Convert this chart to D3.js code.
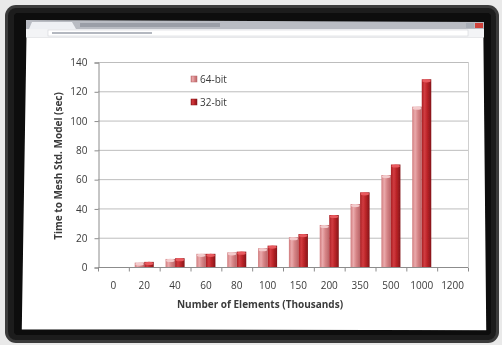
<!DOCTYPE html>
<html>
<head>
<meta charset="utf-8">
<script src="https://cdn.jsdelivr.net/npm/d3@7"></script>
<style>
  html, body { margin: 0; padding: 0; background: #e9e9e9; }
  svg { display: block; }
  text { font-family: "Open Sans", "Liberation Sans", sans-serif; fill: #3a3a3a; }
</style>
</head>
<body>
<svg id="chart" width="502" height="345"></svg>
<script>
// data
const categories = ["0", "20", "40", "60", "80", "100", "150", "200", "350", "500", "1000", "1200"];
const series = ["64-bit", "32-bit"];
const values64 = [null, 3, 5.5, 9, 10, 12.8, 20.3, 28.7, 43, 62.8, 109.5, null];
const values32 = [null, 3.5, 6, 9, 10.5, 14.6, 22.5, 35.5, 51, 70, 128.2, null];
const yTicks = [0, 20, 40, 60, 80, 100, 120, 140];

const svg = d3.select("#chart");
const defs = svg.append("defs");

// slight blur, the reference is a photo of a monitor
defs.append("filter").attr("id", "soft")
  .append("feGaussianBlur").attr("stdDeviation", 0.45);

// bar gradients (cylinder look)
function barGradient(id, stops) {
  const g = defs.append("linearGradient").attr("id", id)
    .attr("x1", "0%").attr("x2", "100%").attr("y1", "0%").attr("y2", "0%");
  stops.forEach(s => g.append("stop").attr("offset", s[0]).attr("stop-color", s[1]));
}
barGradient("g64", [["0%", "#d07c7e"], ["30%", "#eaaaac"], ["60%", "#d68486"], ["100%", "#b96568"]]);
barGradient("g32", [["0%", "#a91f23"], ["30%", "#d13b40"], ["60%", "#b92327"], ["100%", "#84161a"]]);

// monitor frame
svg.append("rect").attr("width", 502).attr("height", 345).attr("fill", "#e9e9e9");
const root = svg.append("g").attr("filter", "url(#soft)");
root.append("rect")
  .attr("x", 5).attr("y", 5).attr("width", 494).attr("height", 338)
  .attr("rx", 11).attr("fill", "#3a3a3a");
root.append("rect")
  .attr("x", 8).attr("y", 8).attr("width", 488).attr("height", 332)
  .attr("rx", 8).attr("fill", "#1e1e1e");
root.append("rect")
  .attr("x", 14).attr("y", 13).attr("width", 477).attr("height", 322)
  .attr("rx", 3).attr("fill", "#111111");

// screen (slight perspective)
root.append("polygon")
  .attr("points", "26,20 484,22 487,331 21,330")
  .attr("fill", "#ffffff")
  .attr("stroke", "#0a0a0a").attr("stroke-width", 1.5);

// browser chrome
root.append("polygon")
  .attr("points", "26,20 484,22 484,30 26,29")
  .attr("fill", "#b9bcc3");
root.append("path")
  .attr("d", "M29,29 L32,22 L72,22 L76,29 Z")
  .attr("fill", "#eef0f4");
root.append("rect").attr("x", 80).attr("y", 23).attr("width", 140).attr("height", 4)
  .attr("fill", "#9a9ea7");
root.append("rect").attr("x", 26).attr("y", 29).attr("width", 458).attr("height", 8)
  .attr("fill", "#f3f4f6");
root.append("rect").attr("x", 48).attr("y", 30).attr("width", 420).attr("height", 6)
  .attr("fill", "#ffffff").attr("stroke", "#c9ccd2").attr("stroke-width", 0.5);
root.append("rect").attr("x", 52).attr("y", 32).attr("width", 100).attr("height", 2)
  .attr("fill", "#b4b8c0");
root.append("rect").attr("x", 466).attr("y", 23).attr("width", 8).attr("height", 5).attr("fill", "#a8adb6");
root.append("rect").attr("x", 475).attr("y", 23).attr("width", 8).attr("height", 5).attr("fill", "#d0433a");
root.append("line").attr("x1", 26).attr("x2", 484).attr("y1", 37.5).attr("y2", 37.5)
  .attr("stroke", "#d6d8dc").attr("stroke-width", 0.6);

// chart
const x = d3.scaleBand().domain(categories).range([98, 468]).paddingInner(0).paddingOuter(0);
const xs = d3.scaleBand().domain(series).range([0, x.bandwidth()]).paddingInner(0).paddingOuter(0.62);
const y = d3.scaleLinear().domain([0, 140]).range([267, 62]);

const chart = root.append("g");

// gridlines
chart.append("g")
  .selectAll("line").data(yTicks).join("line")
  .attr("x1", 98).attr("x2", 468)
  .attr("y1", d => y(d) + 0.5).attr("y2", d => y(d) + 0.5)
  .attr("stroke", "#bdbdbd").attr("stroke-width", 1);
chart.append("line")
  .attr("x1", 468.5).attr("x2", 468.5).attr("y1", y(140)).attr("y2", y(0))
  .attr("stroke", "#cfcfcf");

// y axis
const yAxis = chart.append("g")
  .attr("transform", "translate(98.5,0.5)")
  .call(d3.axisLeft(y).tickValues(yTicks).tickSize(4).tickPadding(7));
yAxis.select(".domain").attr("stroke", "#8c8c8c");
yAxis.selectAll(".tick line").attr("stroke", "#8c8c8c");
yAxis.selectAll(".tick text").attr("font-size", 10).attr("fill", "#3a3a3a")
  .style("font-family", "'Open Sans', sans-serif");

// x axis: ticks on category boundaries
const xAxis = chart.append("g")
  .attr("transform", `translate(0,${y(0) + 0.5})`);
xAxis.append("line").attr("x1", 98).attr("x2", 468).attr("stroke", "#8c8c8c");
xAxis.selectAll("line.tk").data(categories.concat(["end"])).join("line")
  .attr("class", "tk")
  .attr("x1", (d, i) => 98.5 + i * x.step()).attr("x2", (d, i) => 98.5 + i * x.step())
  .attr("y1", 0).attr("y2", 4).attr("stroke", "#8c8c8c");
xAxis.selectAll("text").data(categories).join("text")
  .attr("x", d => x(d) + x.bandwidth() / 2)
  .attr("y", 21)
  .attr("text-anchor", "middle")
  .attr("font-size", 10)
  .text(d => d);

// bars
const rows = categories.map((c, i) => ({ cat: c, vals: [values64[i], values32[i]] }));
const groups = chart.append("g").selectAll("g").data(rows).join("g")
  .attr("transform", d => `translate(${x(d.cat)},0)`);
groups.selectAll("g.bar")
  .data(d => d.vals.map((v, j) => ({ s: series[j], v: v })).filter(e => e.v != null))
  .join("g").attr("class", "bar")
  .each(function (d) {
    const g = d3.select(this);
    const bx = xs(d.s), bw = xs.bandwidth();
    g.append("rect")
      .attr("x", bx).attr("y", y(d.v))
      .attr("width", bw).attr("height", y(0) - y(d.v))
      .attr("fill", d.s === "64-bit" ? "url(#g64)" : "url(#g32)");
    // top cap highlight
    g.append("ellipse")
      .attr("cx", bx + bw / 2).attr("cy", y(d.v) + 1.5)
      .attr("rx", bw / 2 - 0.5).attr("ry", 1.6)
      .attr("fill", d.s === "64-bit" ? "#f3cccd" : "#e85a5e");
  });

// legend
const legend = chart.append("g").attr("transform", "translate(191,76)");
series.forEach((s, i) => {
  const lg = legend.append("g").attr("transform", `translate(0,${i * 23})`);
  lg.append("rect").attr("width", 6).attr("height", 6)
    .attr("fill", s === "64-bit" ? "url(#g64)" : "url(#g32)")
    .attr("stroke", s === "64-bit" ? "#b96568" : "#84161a").attr("stroke-width", 0.5);
  lg.append("text").attr("x", 9).attr("y", 6.5).attr("font-size", 10).text(s);
});

// axis titles
chart.append("text")
  .attr("transform", "translate(62,166) rotate(-90)")
  .attr("text-anchor", "middle")
  .attr("font-size", 10).attr("font-weight", "bold")
  .text("Time to Mesh Std. Model (sec)");
chart.append("text")
  .attr("x", 260).attr("y", 308)
  .attr("text-anchor", "middle")
  .attr("font-size", 10).attr("font-weight", "bold")
  .text("Number of Elements (Thousands)");
</script>
</body>
</html>
